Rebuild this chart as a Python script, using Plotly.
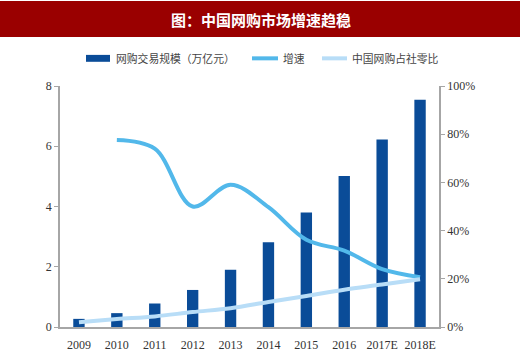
import plotly.graph_objects as go

years = ['2009', '2010', '2011', '2012', '2013', '2014', '2015', '2016', '2017E', '2018E']
scale = [0.27, 0.46, 0.78, 1.23, 1.90, 2.81, 3.80, 5.01, 6.22, 7.54]          # 网购交易规模（万亿元）
growth = [None, 77.6, 74.0, 50.0, 59.0, 49.7, 36.2, 31.7, 24.0, 20.7]          # 增速 (%)
share = [2.0, 3.3, 4.4, 6.2, 7.8, 10.4, 12.9, 15.5, 17.6, 19.8]               # 中国网购占社零比 (%)

series_names = ['网购交易规模（万亿元）', '增速', '中国网购占社零比']
title_text = '图：中国网购市场增速趋稳'
num_font = 'Liberation Serif, Times New Roman, serif'
cjk_font = 'Noto Sans CJK SC'
colors = ['#0A4C98', '#52B8EA', '#B8DDF7']

fig = go.Figure()
fig.add_trace(go.Bar(
    x=years, y=scale, name=series_names[0],
    marker=dict(color=colors[0], line=dict(width=0)), width=0.3, yaxis='y'))
fig.add_trace(go.Scatter(
    x=years, y=growth, name=series_names[1], mode='lines',
    line=dict(color=colors[1], width=4, shape='spline', smoothing=1.0), yaxis='y2'))
fig.add_trace(go.Scatter(
    x=years, y=share, name=series_names[2], mode='lines',
    line=dict(color=colors[2], width=4, shape='spline', smoothing=1.0), yaxis='y2'))

W, H = 520, 364
L, R, T, B = 60, 81, 86, 34
pw, ph = W - L - R, H - T - B

def px_x(p):
    return (p - L) / pw

def px_y(p):
    return (H - B - p) / ph

# title banner
fig.add_shape(type='rect', xref='paper', yref='paper',
              x0=px_x(0), x1=px_x(W), y0=px_y(36.5), y1=px_y(0),
              fillcolor='#9A0000', line=dict(width=0), layer='below')
fig.add_annotation(text=title_text, xref='paper', yref='paper',
                   x=px_x(261), y=px_y(18.5), showarrow=False,
                   font=dict(family=cjk_font, size=15, color='white', weight='bold'),
                   xanchor='center', yanchor='middle')

# legend (drawn by hand to match the wide swatches)
leg_y = 58
fig.add_shape(type='rect', xref='paper', yref='paper',
              x0=px_x(86), x1=px_x(110), y0=px_y(61.5), y1=px_y(54.5),
              fillcolor=colors[0], line=dict(width=0))
fig.add_shape(type='line', xref='paper', yref='paper',
              x0=px_x(252), x1=px_x(278), y0=px_y(leg_y), y1=px_y(leg_y),
              line=dict(color=colors[1], width=4))
fig.add_shape(type='line', xref='paper', yref='paper',
              x0=px_x(322), x1=px_x(347), y0=px_y(leg_y), y1=px_y(leg_y),
              line=dict(color=colors[2], width=4))
for name, xs in zip(series_names, [114, 281, 350]):
    fig.add_annotation(text=name, xref='paper', yref='paper',
                       x=px_x(xs), y=px_y(leg_y), showarrow=False,
                       xanchor='left', yanchor='middle',
                       font=dict(family=cjk_font, size=10.8, color='#444444'))

fig.update_layout(
    width=W, height=H,
    margin=dict(l=L, r=R, t=T, b=B),
    paper_bgcolor='white', plot_bgcolor='white',
    showlegend=False,
    xaxis=dict(type='category', showgrid=False, showline=True, linecolor='#A6A6A6', linewidth=1.5,
               ticks='', ticklabelstandoff=6,
               tickfont=dict(family=num_font, size=12, color='#333333'), range=[-0.5, 9.5]),
    yaxis=dict(range=[0, 8], dtick=2, showgrid=False, showline=True, linecolor='#A6A6A6', linewidth=1.5,
               ticks='outside', ticklen=4, tickcolor='#A6A6A6',
               tickfont=dict(family=num_font, size=12, color='#333333'), zeroline=False),
    yaxis2=dict(range=[0, 100], dtick=20, ticksuffix='%', overlaying='y', side='right',
                showgrid=False, showline=True, linecolor='#A6A6A6', linewidth=1.5,
                ticks='outside', ticklen=4, tickcolor='#A6A6A6',
                tickfont=dict(family=num_font, size=12, color='#333333'), zeroline=False),
)

fig.write_html('out.html', config={'displayModeBar': False},
               post_script="document.body.style.margin='0';")
